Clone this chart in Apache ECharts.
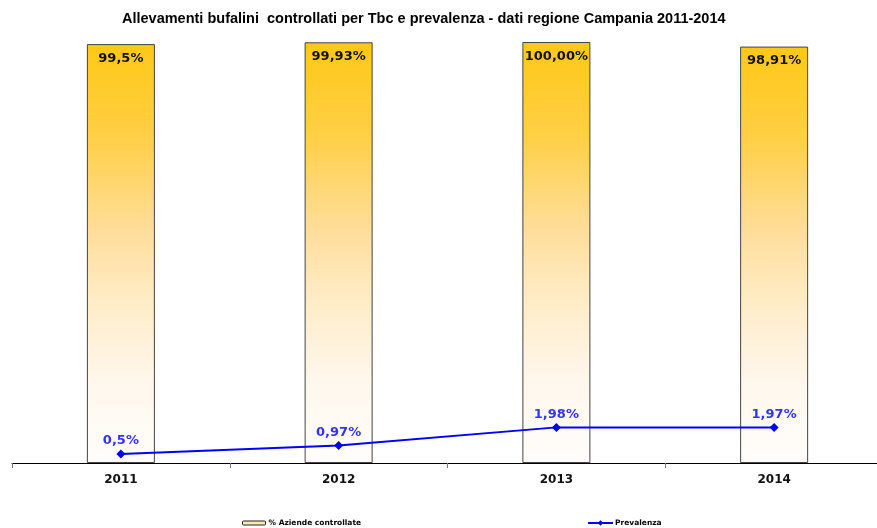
<!DOCTYPE html>
<html>
<head>
<meta charset="utf-8">
<script src="https://cdn.jsdelivr.net/npm/echarts@6/dist/echarts.min.js"></script>
<style>
  html, body { margin: 0; padding: 0; background: #ffffff; overflow: hidden; }
  #chart { width: 883px; height: 528px; }
</style>
</head>
<body>
<div id="chart"></div>
<script>
// Anni di riferimento
const years = ['2011', '2012', '2013', '2014'];
// % aziende bufaline controllate per Tbc
const controllate = [99.5, 99.93, 100.0, 98.91];
const controllateDecimals = [1, 2, 2, 2];
// Prevalenza Tbc (%)
const prevalenza = [0.5, 0.97, 1.98, 1.97];
const prevalenzaDecimals = [1, 2, 2, 2];

function pct(v, d) {
  return v.toFixed(d).replace('.', ',') + '%';
}

const chart = echarts.init(document.getElementById('chart'), null, { renderer: 'canvas' });

const barFill = new echarts.graphic.LinearGradient(0, 0, 0, 1, [
  { offset: 0, color: '#FFC816' },
  { offset: 0.22, color: '#FFCF45' },
  { offset: 0.45, color: '#FFDE9C' },
  { offset: 0.62, color: '#FFECC8' },
  { offset: 0.8, color: '#FFF7EC' },
  { offset: 1, color: '#FFFDFB' }
]);

chart.setOption({
  animation: false,
  backgroundColor: '#ffffff',
  title: {
    text: 'Allevamenti bufalini  controllati per Tbc e prevalenza - dati regione Campania 2011-2014',
    left: 117,
    top: 6,
    textStyle: {
      fontFamily: 'Liberation Sans, Arial, sans-serif',
      fontSize: 14.5,
      fontWeight: 'bold',
      color: '#000000'
    }
  },
  legend: [
    {
      data: ['% Aziende controllate'],
      left: 242,
      top: 519,
      padding: 0,
      itemWidth: 23,
      itemHeight: 4,
      itemGap: 3,
      textStyle: { fontFamily: 'DejaVu Sans', fontSize: 7.5, fontWeight: 'bold', color: '#000', padding: [0, 0, 0, -2] },
      itemStyle: { color: '#FFE9B0', borderColor: '#222', borderWidth: 1 }
    },
    {
      data: ['Prevalenza'],
      left: 587,
      top: 519,
      padding: 0,
      itemWidth: 25,
      itemHeight: 7,
      textStyle: { fontFamily: 'DejaVu Sans', fontSize: 7.5, fontWeight: 'bold', color: '#000', padding: [0, 0, 0, -3] }
    }
  ],
  grid: {
    left: 12,
    right: 0,
    top: 42,
    bottom: 65,
    containLabel: false
  },
  xAxis: {
    type: 'category',
    data: years,
    boundaryGap: true,
    axisLine: { show: true, lineStyle: { color: '#000000', width: 1 } },
    axisTick: { show: true, length: 5, lineStyle: { color: '#777777' } },
    axisLabel: {
      margin: 11,
      fontFamily: 'DejaVu Sans',
      fontSize: 12,
      fontWeight: 'bold',
      color: '#111111'
    },
    splitLine: { show: false }
  },
  yAxis: [
    { type: 'value', min: 0, max: 100, show: false, splitLine: { show: false } },
    { type: 'value', min: 0, max: 23.4, show: false, splitLine: { show: false } }
  ],
  series: [
    {
      name: '% Aziende controllate',
      type: 'bar',
      yAxisIndex: 0,
      data: controllate,
      barWidth: 68,
      itemStyle: {
        color: barFill,
        borderColor: '#444444',
        borderWidth: 1
      },
      label: {
        show: true,
        position: 'insideTop',
        distance: 8,
        fontFamily: 'DejaVu Sans',
        fontSize: 13,
        fontWeight: 'bold',
        color: '#111111',
        formatter: p => pct(p.value, controllateDecimals[p.dataIndex])
      },
      z: 2
    },
    {
      name: 'Prevalenza',
      type: 'line',
      yAxisIndex: 1,
      data: prevalenza,
      symbol: 'diamond',
      symbolSize: 9,
      lineStyle: { color: '#0000FF', width: 2 },
      itemStyle: { color: '#0000FF' },
      label: {
        show: true,
        position: 'top',
        distance: 2,
        fontFamily: 'DejaVu Sans',
        fontSize: 13,
        fontWeight: 'bold',
        color: '#3333FF',
        formatter: p => pct(p.value, prevalenzaDecimals[p.dataIndex])
      },
      z: 3
    }
  ]
});
</script>
</body>
</html>
